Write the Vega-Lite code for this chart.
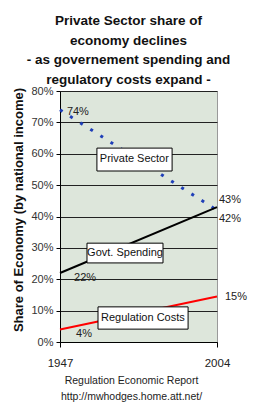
{
  "$schema": "https://vega.github.io/schema/vega-lite/v6.json",
  "width": 157,
  "height": 251,
  "autosize": {"type": "none"},
  "padding": {"left": 60, "top": 91, "right": 40, "bottom": 61},
  "background": "white",
  "config": {
    "view": {"fill": "#dde6db", "stroke": "#999999", "strokeWidth": 1},
    "font": "Liberation Sans"
  },
  "title": {
    "text": ["Private Sector share of", "economy declines", "- as governement spending and", "regulatory costs expand -"],
    "font": "Liberation Sans",
    "fontSize": 13.5,
    "fontWeight": "bold",
    "lineHeight": 19.5,
    "color": "#111111",
    "anchor": "middle",
    "frame": "group",
    "dx": -10,
    "offset": -1
  },
  "datasets": {
    "lines": [
      {"series": "Private Sector", "year": 1947, "share": 0.74},
      {"series": "Private Sector", "year": 2004, "share": 0.42},
      {"series": "Govt. Spending", "year": 1947, "share": 0.22},
      {"series": "Govt. Spending", "year": 2004, "share": 0.43},
      {"series": "Regulation Costs", "year": 1947, "share": 0.04},
      {"series": "Regulation Costs", "year": 2004, "share": 0.145}
    ],
    "boxes": [
      {"label": "Private Sector", "x0": 1960.4, "x1": 1987.7, "y0": 0.545, "y1": 0.618, "xc": 1974.0, "yc": 0.582},
      {"label": "Govt. Spending", "x0": 1956.8, "x1": 1984.4, "y0": 0.252, "y1": 0.315, "xc": 1970.6, "yc": 0.284},
      {"label": "Regulation Costs", "x0": 1960.8, "x1": 1993.5, "y0": 0.041, "y1": 0.112, "xc": 1977.1, "yc": 0.0765}
    ],
    "pcts": [
      {"label": "74%", "year": 1953.5, "share": 0.733},
      {"label": "43%", "year": 2008.7, "share": 0.453},
      {"label": "42%", "year": 2008.7, "share": 0.392},
      {"label": "22%", "year": 1956.1, "share": 0.204},
      {"label": "15%", "year": 2010.9, "share": 0.143},
      {"label": "4%", "year": 1955.7, "share": 0.025}
    ]
  },
  "layer": [
    {
      "data": {"name": "lines"},
      "transform": [{"filter": "datum.series === 'Private Sector'"}],
      "mark": {"type": "line", "color": "#1f3fb8", "strokeWidth": 3, "strokeDash": [3, 9]},
      "encoding": {
        "x": {
          "field": "year", "type": "quantitative",
          "scale": {"domain": [1947, 2004], "nice": false, "zero": false},
          "axis": {
            "values": [1947, 2004], "tickCount": 2, "format": "d", "grid": false,
            "domainColor": "#000000", "tickColor": "#000000", "tickSize": 5,
            "labelFont": "Liberation Sans",
            "labelFontSize": 11.5, "labelColor": "#222222", "labelPadding": 10, "labelFlush": false, "labelOverlap": false,
            "title": ["Regulation Economic Report", "http://mwhodges.home.att.net/"],
            "titleFont": "Liberation Sans",
            "titleFontSize": 10.5, "titleFontWeight": "normal", "titleColor": "#222222",
            "titleLineHeight": 16, "titleX": 71, "titleY": 33, "titleBaseline": "top", "titleAlign": "center"
          }
        },
        "y": {
          "field": "share", "type": "quantitative",
          "scale": {"domain": [0, 0.8], "nice": false},
          "axis": {
            "values": [0, 0.1, 0.2, 0.3, 0.4, 0.5, 0.6, 0.7, 0.8], "tickCount": 9, "format": ".0%",
            "grid": true, "gridColor": "#222222", "gridWidth": 1, "gridOpacity": 1,
            "domainColor": "#000000", "tickColor": "#000000", "tickSize": 4,
            "labelFontSize": 11, "labelColor": "#333333", "labelPadding": 3, "labelOverlap": false,
            "title": "Share of Economy (by national income)",
            "titleFontSize": 13, "titleFontWeight": "bold", "titleColor": "#111111",
            "titleX": -42, "titleY": 118.5, "titleAngle": -90, "titleAlign": "center", "titleBaseline": "middle"
          }
        }
      }
    },
    {
      "data": {"name": "lines"},
      "transform": [{"filter": "datum.series === 'Govt. Spending'"}],
      "mark": {"type": "line", "color": "#000000", "strokeWidth": 2},
      "encoding": {
        "x": {"field": "year", "type": "quantitative"},
        "y": {"field": "share", "type": "quantitative"}
      }
    },
    {
      "data": {"name": "lines"},
      "transform": [{"filter": "datum.series === 'Regulation Costs'"}],
      "mark": {"type": "line", "color": "#ff0000", "strokeWidth": 2},
      "encoding": {
        "x": {"field": "year", "type": "quantitative"},
        "y": {"field": "share", "type": "quantitative"}
      }
    },
    {
      "data": {"name": "boxes"},
      "mark": {"type": "rect", "fill": "#ffffff", "stroke": "#000000", "strokeWidth": 1},
      "encoding": {
        "x": {"field": "x0", "type": "quantitative"},
        "x2": {"field": "x1"},
        "y": {"field": "y0", "type": "quantitative"},
        "y2": {"field": "y1"}
      }
    },
    {
      "data": {"name": "boxes"},
      "mark": {"type": "text", "fontSize": 11, "color": "#111111", "align": "center", "baseline": "middle"},
      "encoding": {
        "x": {"field": "xc", "type": "quantitative"},
        "y": {"field": "yc", "type": "quantitative"},
        "text": {"field": "label"}
      }
    },
    {
      "data": {"name": "pcts"},
      "mark": {"type": "text", "fontSize": 11, "color": "#222222", "align": "center", "baseline": "middle"},
      "encoding": {
        "x": {"field": "year", "type": "quantitative"},
        "y": {"field": "share", "type": "quantitative"},
        "text": {"field": "label"}
      }
    }
  ]
}
